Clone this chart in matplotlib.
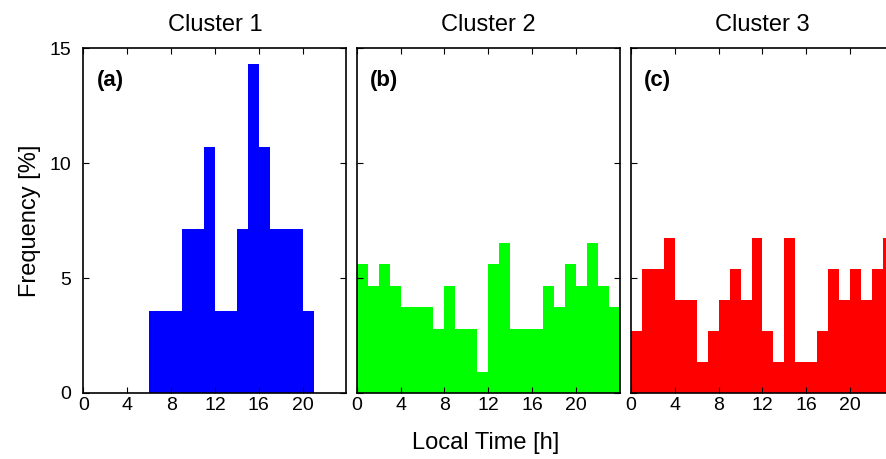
import matplotlib.pyplot as plt
import numpy as np

# Event counts per local-time hour (0..23) for each cluster
hours = np.arange(24)
counts_c1 = [0, 0, 0, 0, 0, 0, 1, 1, 1, 2, 2, 3, 1, 1, 2, 4, 3, 2, 2, 2, 1, 0, 0, 0]
counts_c2 = [6, 5, 6, 5, 4, 4, 4, 3, 5, 3, 3, 1, 6, 7, 3, 3, 3, 5, 4, 6, 5, 7, 5, 4]
counts_c3 = [2, 4, 4, 5, 3, 3, 1, 2, 3, 4, 3, 5, 2, 1, 5, 1, 1, 2, 4, 3, 4, 3, 4, 5]

titles = ['Cluster 1', 'Cluster 2', 'Cluster 3']
letters = ['(a)', '(b)', '(c)']
colors = ['#0000ff', '#00ff00', '#ff0000']
xticks = [0, 4, 8, 12, 16, 20]
yticks = [0, 5, 10, 15]

plt.rcParams['font.family'] = ['Liberation Sans', 'DejaVu Sans']

fig = plt.figure(figsize=(8.86, 4.59), dpi=100)
lefts = [0.0942, 0.4026, 0.7122]
bottom, width, height = 0.1438, 0.2968, 0.7516

for i, counts in enumerate([counts_c1, counts_c2, counts_c3]):
    ax = fig.add_axes([lefts[i], bottom, width, height])
    freq = np.array(counts) / sum(counts) * 100
    ax.bar(hours, freq, width=1.0, align='edge', color=colors[i],
           edgecolor='none')
    ax.set_xlim(0, 24)
    ax.set_ylim(0, 15)
    ax.set_xticks(xticks)
    ax.set_yticks(yticks)
    ax.tick_params(direction='in', top=True, right=True, length=4,
                   width=0.8, labelsize=14, pad=3)
    ax.tick_params(axis='y', pad=9)
    if i > 0:
        ax.set_yticklabels([])
    for sp in ax.spines.values():
        sp.set_linewidth(1.2)
    ax.set_title(titles[i], fontsize=17, pad=12)
    ax.text(0.05, 0.905, letters[i], transform=ax.transAxes, fontsize=16,
            fontweight='bold', va='center', ha='left')
    if i == 0:
        ax.set_ylabel('Frequency [%]', fontsize=17, labelpad=6)

fig.text(0.548, 0.035, 'Local Time [h]', fontsize=17, ha='center',
         va='center')

plt.savefig('out.png', dpi=100)
